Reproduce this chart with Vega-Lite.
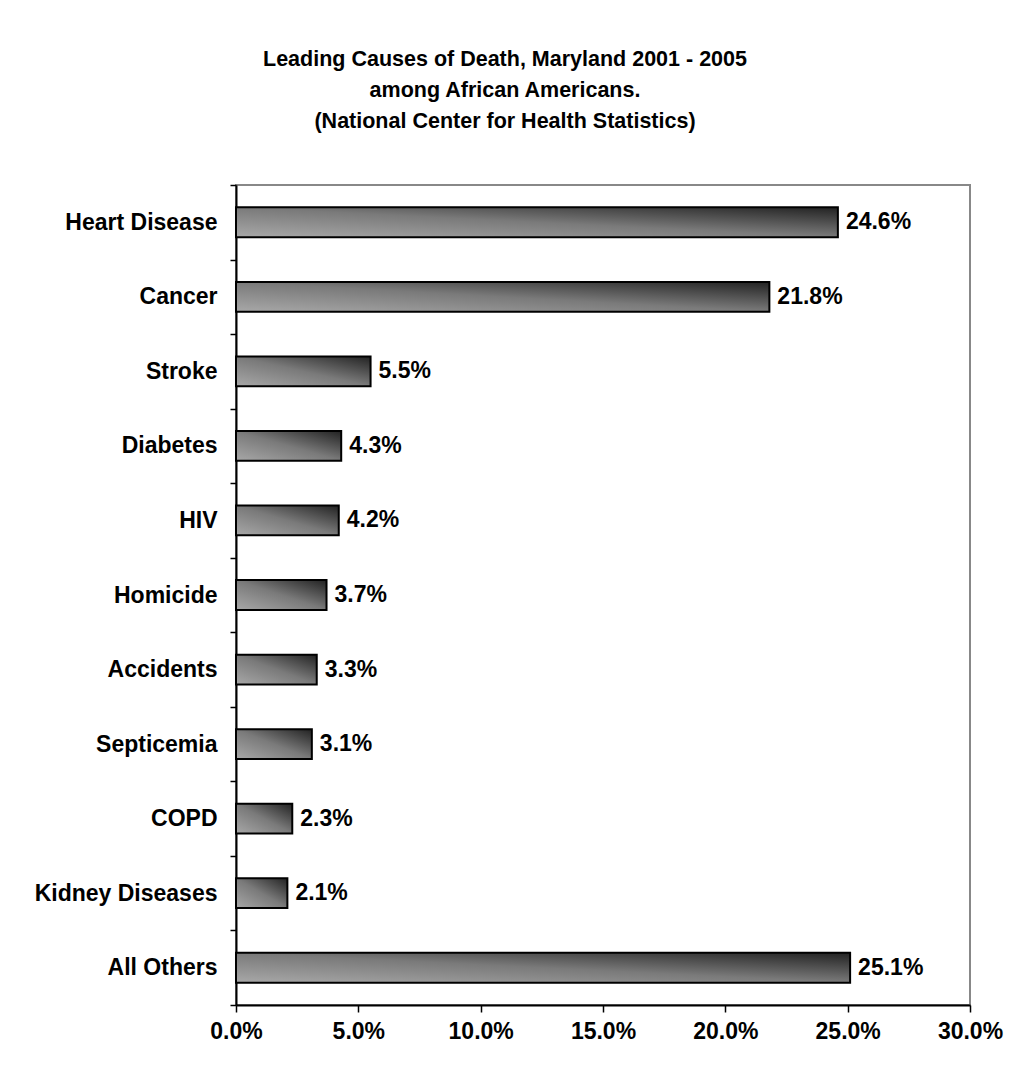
{
  "$schema": "https://vega.github.io/schema/vega-lite/v6.json",
  "autosize": "none",
  "width": 734,
  "height": 820,
  "padding": {"left": 236, "top": 185, "right": 45, "bottom": 71},
  "background": "white",
  "title": {
    "text": ["Leading Causes of Death, Maryland 2001 - 2005", "among African Americans.", "(National Center for Health Statistics)"],
    "font": "Liberation Sans",
    "fontSize": 21.5,
    "fontWeight": "bold",
    "color": "black",
    "anchor": "middle",
    "frame": "group",
    "dx": -98,
    "lineHeight": 31,
    "offset": 42
  },
  "config": {
    "view": {"stroke": "#888888", "strokeWidth": 2},
    "axis": {
      "labelFont": "Liberation Sans",
      "labelFontSize": 23,
      "labelFontWeight": "bold",
      "labelColor": "black",
      "labelLimit": 400,
      "domainColor": "black",
      "domainWidth": 2,
      "tickColor": "black",
      "tickWidth": 1.5,
      "grid": false,
      "title": null
    }
  },
  "data": {
    "values": [
      {"cause": "Heart Disease", "pct": 0.246},
      {"cause": "Cancer", "pct": 0.218},
      {"cause": "Stroke", "pct": 0.055},
      {"cause": "Diabetes", "pct": 0.043},
      {"cause": "HIV", "pct": 0.042},
      {"cause": "Homicide", "pct": 0.037},
      {"cause": "Accidents", "pct": 0.033},
      {"cause": "Septicemia", "pct": 0.031},
      {"cause": "COPD", "pct": 0.023},
      {"cause": "Kidney Diseases", "pct": 0.021},
      {"cause": "All Others", "pct": 0.251}
    ]
  },
  "encoding": {
    "y": {
      "field": "cause",
      "type": "nominal",
      "sort": null,
      "scale": {"paddingInner": 0, "paddingOuter": 0},
      "axis": {"tickBand": "extent", "tickSize": 6, "labelPadding": 13}
    },
    "x": {
      "field": "pct",
      "type": "quantitative",
      "scale": {"domain": [0, 0.3], "nice": false},
      "axis": {"format": ".1%", "values": [0, 0.05, 0.1, 0.15, 0.2, 0.25, 0.3], "tickSize": 7, "labelPadding": 8, "labelFlush": false}
    }
  },
  "layer": [
    {
      "mark": {
        "type": "bar",
        "height": {"band": 0.4},
        "stroke": "black",
        "strokeWidth": 2,
        "color": {
          "gradient": "linear",
          "x1": 0, "y1": 1, "x2": 1, "y2": 0,
          "stops": [
            {"offset": 0, "color": "#a8a8a8"},
            {"offset": 0.5, "color": "#7a7a7a"},
            {"offset": 1, "color": "#222222"}
          ]
        }
      }
    },
    {
      "mark": {
        "type": "text",
        "align": "left",
        "baseline": "middle",
        "dx": 8,
        "font": "Liberation Sans",
        "fontSize": 23,
        "fontWeight": "bold",
        "color": "black"
      },
      "encoding": {
        "text": {"field": "pct", "type": "quantitative", "format": ".1%"}
      }
    }
  ]
}
